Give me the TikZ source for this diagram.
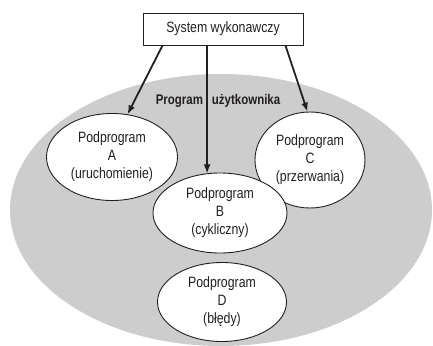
\documentclass[tikz,border=0pt]{standalone}
\usepackage{fontspec}
\setmainfont{Liberation Sans}[FakeStretch=0.82]
\usepackage{xcolor}
\definecolor{Ink}{HTML}{231F20}
\definecolor{Backdrop}{HTML}{CDCDCD}
\colorlet{ink}{Ink}
\colorlet{backdrop}{Backdrop}
\usepackage{tikz}
\usetikzlibrary{arrows.meta,positioning,shapes.geometric,calc}

\begin{document}
\begin{tikzpicture}[x=1pt,y=-1pt,every node/.style={font=\fontsize{15}{18}\selectfont,align=center,text=ink},
  sub/.style={draw=ink,fill=white,ellipse,inner sep=0pt,line width=0.9pt}]
\useasboundingbox (0,0) rectangle (433,345);
\fill[fill=backdrop] (221,210) ellipse [x radius=211,y radius=136];
\node[draw=ink,fill=white,line width=0.9pt,minimum width=160pt,minimum height=32pt,inner sep=0pt] (sys) at (223,29) {System wykonawczy};
\node[font=\fontsize{14}{16}\selectfont\bfseries] (prog) at (218,101) {Program\hspace{9pt}użytkownika};
\node[sub,minimum width=131pt,minimum height=87pt] (A) at (112,157) {Podprogram\\A\\(uruchomienie)};
\node[sub,minimum width=110pt,minimum height=96pt] (C) at (310,160) {Podprogram\\C\\(przerwania)};
\node[sub,minimum width=134pt,minimum height=80pt] (B) at (220,213) {Podprogram\\B\\(cykliczny)};
\node[sub,minimum width=129pt,minimum height=79pt] (D) at (222,302) {Podprogram\\D\\(błędy)};
\draw[ink,line width=1.8pt,-{Latex[length=9pt,width=7pt]}] ($(sys.south west)+(20,0)$)--(A.70);
\draw[ink,line width=1.4pt,-{Latex[length=9pt,width=7pt]}] (sys.south -| B.108)--(B.108);
\draw[ink,line width=1.8pt,-{Latex[length=9pt,width=7pt]}] ($(sys.south east)+(-18,0)$)--(C.93);
\end{tikzpicture}
\end{document}
